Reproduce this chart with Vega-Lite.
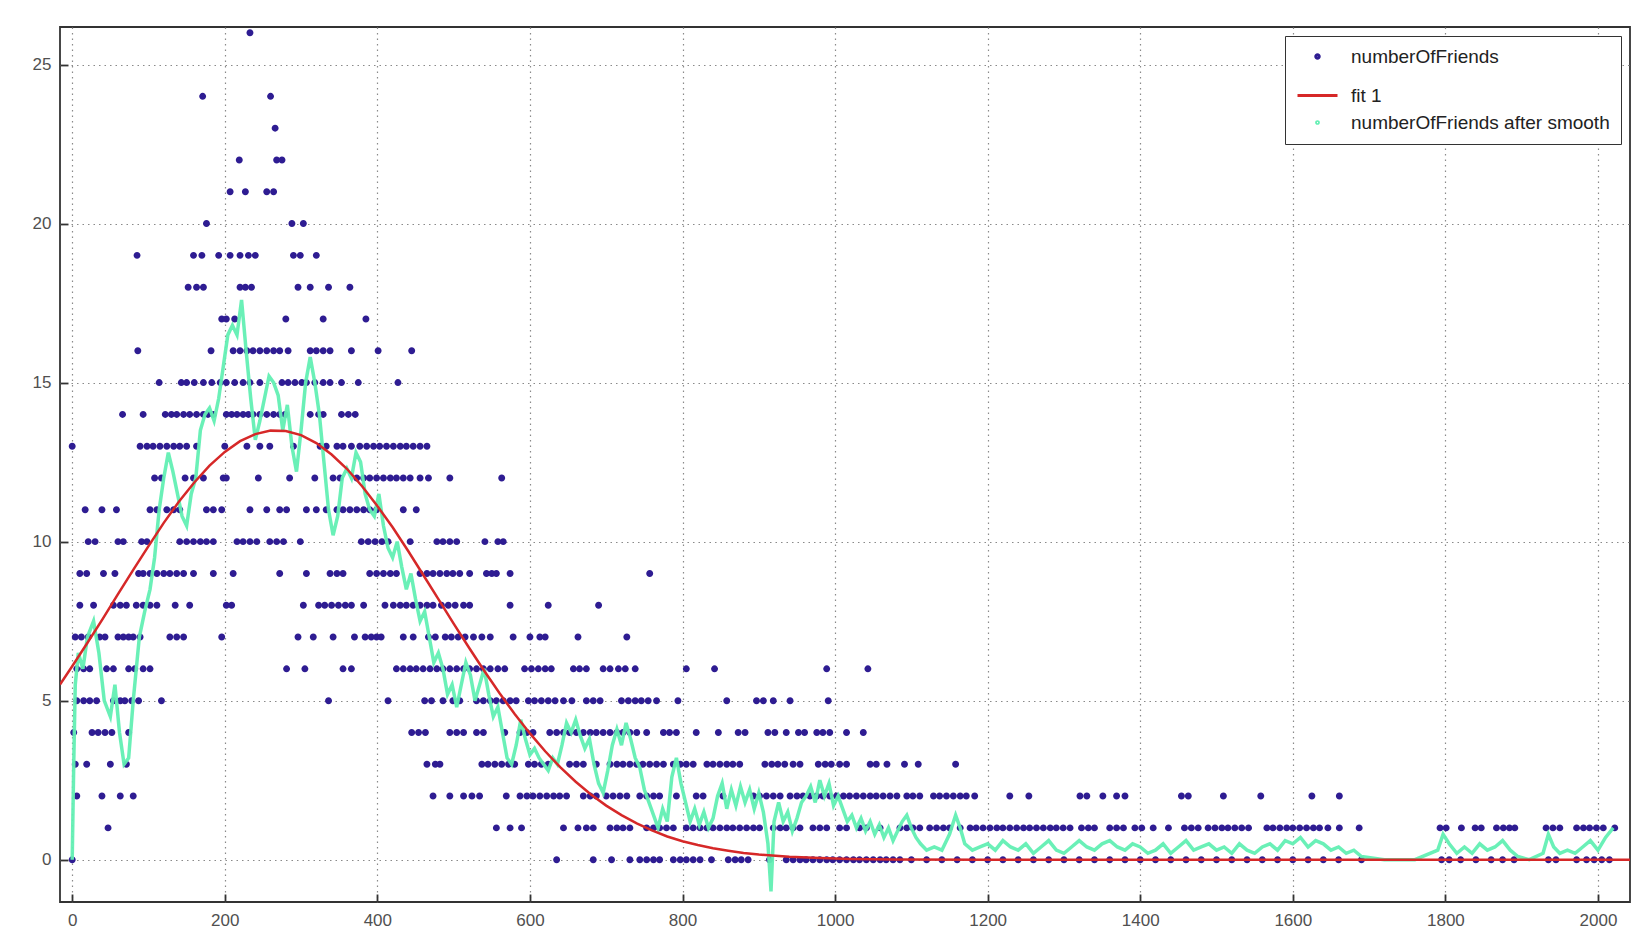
{
 "$schema": "https://vega.github.io/schema/vega-lite/v6.json",
 "width": 1570,
 "height": 875,
 "autosize": {"type": "none"},
 "padding": {"left": 60, "top": 27, "right": 10, "bottom": 47},
 "background": "white",
 "config": {
  "font": "Liberation Sans",
  "view": {"stroke": "#333333", "strokeWidth": 1.8},
  "axis": {"title": null, "grid": true, "gridColor": "#8a8a8a", "gridDash": [1.5, 4], "gridWidth": 1.2, "domain": false, "ticks": true, "tickSize": -8, "tickColor": "#333333", "tickWidth": 1.8, "labelFontSize": 17, "labelColor": "#505050", "labelFont": "Liberation Sans"},
  "axisX": {"labelPadding": 18, "format": "d"},
  "axisY": {"labelPadding": 17},
  "legend": {"orient": "top-right", "offset": 9, "title": null, "strokeColor": "#333333", "fillColor": "white", "padding": 11, "labelFontSize": 19, "labelColor": "#222222", "labelFont": "Liberation Sans", "rowPadding": 7, "labelOffset": 12, "labelLimit": 400, "symbolStrokeWidth": 3}
 },
 "datasets": {
  "friends": [
   {"x":233,"y":26},
   {"x":171,"y":24},{"x":260,"y":24},
   {"x":266,"y":23},
   {"x":219,"y":22},{"x":268,"y":22},{"x":275,"y":22},
   {"x":207,"y":21},{"x":227,"y":21},{"x":255,"y":21},{"x":264,"y":21},
   {"x":176,"y":20},{"x":288,"y":20},{"x":303,"y":20},
   {"x":85,"y":19},{"x":159,"y":19},{"x":170,"y":19},{"x":192,"y":19},{"x":207,"y":19},{"x":220,"y":19},{"x":231,"y":19},{"x":240,"y":19},{"x":290,"y":19},{"x":299,"y":19},{"x":320,"y":19},
   {"x":152,"y":18},{"x":163,"y":18},{"x":172,"y":18},{"x":220,"y":18},{"x":227,"y":18},{"x":235,"y":18},{"x":296,"y":18},{"x":312,"y":18},{"x":336,"y":18},{"x":364,"y":18},
   {"x":196,"y":17},{"x":202,"y":17},{"x":213,"y":17},{"x":280,"y":17},{"x":329,"y":17},{"x":385,"y":17},
   {"x":86,"y":16},{"x":182,"y":16},{"x":211,"y":16},{"x":220,"y":16},{"x":229,"y":16},{"x":237,"y":16},{"x":246,"y":16},{"x":255,"y":16},{"x":264,"y":16},{"x":272,"y":16},{"x":283,"y":16},{"x":312,"y":16},{"x":320,"y":16},{"x":329,"y":16},{"x":338,"y":16},{"x":366,"y":16},{"x":401,"y":16},{"x":445,"y":16},
   {"x":114,"y":15},{"x":143,"y":15},{"x":150,"y":15},{"x":160,"y":15},{"x":172,"y":15},{"x":183,"y":15},{"x":194,"y":15},{"x":202,"y":15},{"x":213,"y":15},{"x":224,"y":15},{"x":233,"y":15},{"x":246,"y":15},{"x":275,"y":15},{"x":283,"y":15},{"x":292,"y":15},{"x":301,"y":15},{"x":307,"y":15},{"x":318,"y":15},{"x":329,"y":15},{"x":338,"y":15},{"x":353,"y":15},{"x":375,"y":15},{"x":427,"y":15},
   {"x":66,"y":14},{"x":93,"y":14},{"x":122,"y":14},{"x":130,"y":14},{"x":137,"y":14},{"x":146,"y":14},{"x":154,"y":14},{"x":163,"y":14},{"x":172,"y":14},{"x":178,"y":14},{"x":185,"y":14},{"x":202,"y":14},{"x":209,"y":14},{"x":216,"y":14},{"x":224,"y":14},{"x":231,"y":14},{"x":237,"y":14},{"x":246,"y":14},{"x":255,"y":14},{"x":264,"y":14},{"x":272,"y":14},{"x":279,"y":14},{"x":312,"y":14},{"x":323,"y":14},{"x":329,"y":14},{"x":353,"y":14},{"x":362,"y":14},{"x":371,"y":14},
   {"x":0,"y":13},{"x":89,"y":13},{"x":98,"y":13},{"x":106,"y":13},{"x":115,"y":13},{"x":124,"y":13},{"x":133,"y":13},{"x":141,"y":13},{"x":150,"y":13},{"x":163,"y":13},{"x":200,"y":13},{"x":229,"y":13},{"x":246,"y":13},{"x":259,"y":13},{"x":290,"y":13},{"x":325,"y":13},{"x":333,"y":13},{"x":347,"y":13},{"x":355,"y":13},{"x":366,"y":13},{"x":377,"y":13},{"x":386,"y":13},{"x":395,"y":13},{"x":403,"y":13},{"x":412,"y":13},{"x":421,"y":13},{"x":430,"y":13},{"x":438,"y":13},{"x":447,"y":13},{"x":456,"y":13},{"x":465,"y":13},
   {"x":108,"y":12},{"x":117,"y":12},{"x":148,"y":12},{"x":159,"y":12},{"x":172,"y":12},{"x":198,"y":12},{"x":202,"y":12},{"x":244,"y":12},{"x":285,"y":12},{"x":318,"y":12},{"x":342,"y":12},{"x":351,"y":12},{"x":373,"y":12},{"x":382,"y":12},{"x":390,"y":12},{"x":399,"y":12},{"x":408,"y":12},{"x":417,"y":12},{"x":425,"y":12},{"x":434,"y":12},{"x":443,"y":12},{"x":456,"y":12},{"x":467,"y":12},{"x":495,"y":12},{"x":563,"y":12},
   {"x":17,"y":11},{"x":39,"y":11},{"x":58,"y":11},{"x":102,"y":11},{"x":111,"y":11},{"x":124,"y":11},{"x":133,"y":11},{"x":141,"y":11},{"x":176,"y":11},{"x":185,"y":11},{"x":196,"y":11},{"x":233,"y":11},{"x":255,"y":11},{"x":272,"y":11},{"x":281,"y":11},{"x":307,"y":11},{"x":320,"y":11},{"x":333,"y":11},{"x":347,"y":11},{"x":355,"y":11},{"x":364,"y":11},{"x":373,"y":11},{"x":382,"y":11},{"x":390,"y":11},{"x":399,"y":11},{"x":434,"y":11},{"x":451,"y":11},
   {"x":21,"y":10},{"x":30,"y":10},{"x":60,"y":10},{"x":67,"y":10},{"x":91,"y":10},{"x":98,"y":10},{"x":141,"y":10},{"x":150,"y":10},{"x":159,"y":10},{"x":168,"y":10},{"x":176,"y":10},{"x":185,"y":10},{"x":216,"y":10},{"x":224,"y":10},{"x":233,"y":10},{"x":242,"y":10},{"x":259,"y":10},{"x":268,"y":10},{"x":277,"y":10},{"x":299,"y":10},{"x":379,"y":10},{"x":388,"y":10},{"x":397,"y":10},{"x":406,"y":10},{"x":414,"y":10},{"x":443,"y":10},{"x":478,"y":10},{"x":486,"y":10},{"x":495,"y":10},{"x":504,"y":10},{"x":541,"y":10},{"x":558,"y":10},{"x":565,"y":10},
   {"x":10,"y":9},{"x":19,"y":9},{"x":41,"y":9},{"x":56,"y":9},{"x":87,"y":9},{"x":93,"y":9},{"x":102,"y":9},{"x":111,"y":9},{"x":120,"y":9},{"x":128,"y":9},{"x":137,"y":9},{"x":146,"y":9},{"x":159,"y":9},{"x":185,"y":9},{"x":211,"y":9},{"x":272,"y":9},{"x":307,"y":9},{"x":338,"y":9},{"x":347,"y":9},{"x":355,"y":9},{"x":390,"y":9},{"x":399,"y":9},{"x":408,"y":9},{"x":417,"y":9},{"x":425,"y":9},{"x":456,"y":9},{"x":465,"y":9},{"x":473,"y":9},{"x":482,"y":9},{"x":491,"y":9},{"x":499,"y":9},{"x":508,"y":9},{"x":521,"y":9},{"x":543,"y":9},{"x":550,"y":9},{"x":556,"y":9},{"x":574,"y":9},{"x":757,"y":9},
   {"x":10,"y":8},{"x":28,"y":8},{"x":54,"y":8},{"x":63,"y":8},{"x":71,"y":8},{"x":84,"y":8},{"x":93,"y":8},{"x":102,"y":8},{"x":111,"y":8},{"x":135,"y":8},{"x":154,"y":8},{"x":202,"y":8},{"x":209,"y":8},{"x":303,"y":8},{"x":323,"y":8},{"x":331,"y":8},{"x":340,"y":8},{"x":349,"y":8},{"x":358,"y":8},{"x":366,"y":8},{"x":382,"y":8},{"x":410,"y":8},{"x":421,"y":8},{"x":430,"y":8},{"x":438,"y":8},{"x":447,"y":8},{"x":456,"y":8},{"x":465,"y":8},{"x":473,"y":8},{"x":484,"y":8},{"x":493,"y":8},{"x":502,"y":8},{"x":513,"y":8},{"x":521,"y":8},{"x":574,"y":8},{"x":624,"y":8},{"x":690,"y":8},
   {"x":4,"y":7},{"x":12,"y":7},{"x":21,"y":7},{"x":36,"y":7},{"x":43,"y":7},{"x":60,"y":7},{"x":67,"y":7},{"x":74,"y":7},{"x":80,"y":7},{"x":89,"y":7},{"x":128,"y":7},{"x":137,"y":7},{"x":146,"y":7},{"x":196,"y":7},{"x":296,"y":7},{"x":316,"y":7},{"x":342,"y":7},{"x":370,"y":7},{"x":384,"y":7},{"x":392,"y":7},{"x":399,"y":7},{"x":405,"y":7},{"x":434,"y":7},{"x":447,"y":7},{"x":467,"y":7},{"x":476,"y":7},{"x":489,"y":7},{"x":497,"y":7},{"x":506,"y":7},{"x":515,"y":7},{"x":526,"y":7},{"x":537,"y":7},{"x":548,"y":7},{"x":578,"y":7},{"x":600,"y":7},{"x":613,"y":7},{"x":620,"y":7},{"x":663,"y":7},{"x":727,"y":7},
   {"x":6,"y":6},{"x":15,"y":6},{"x":23,"y":6},{"x":45,"y":6},{"x":54,"y":6},{"x":74,"y":6},{"x":82,"y":6},{"x":93,"y":6},{"x":102,"y":6},{"x":281,"y":6},{"x":305,"y":6},{"x":355,"y":6},{"x":366,"y":6},{"x":425,"y":6},{"x":434,"y":6},{"x":443,"y":6},{"x":451,"y":6},{"x":460,"y":6},{"x":469,"y":6},{"x":478,"y":6},{"x":486,"y":6},{"x":495,"y":6},{"x":504,"y":6},{"x":513,"y":6},{"x":521,"y":6},{"x":530,"y":6},{"x":539,"y":6},{"x":548,"y":6},{"x":558,"y":6},{"x":567,"y":6},{"x":593,"y":6},{"x":602,"y":6},{"x":611,"y":6},{"x":620,"y":6},{"x":628,"y":6},{"x":657,"y":6},{"x":665,"y":6},{"x":674,"y":6},{"x":696,"y":6},{"x":705,"y":6},{"x":716,"y":6},{"x":725,"y":6},{"x":738,"y":6},{"x":805,"y":6},{"x":842,"y":6},{"x":989,"y":6},{"x":1043,"y":6},
   {"x":6,"y":5},{"x":15,"y":5},{"x":23,"y":5},{"x":32,"y":5},{"x":54,"y":5},{"x":63,"y":5},{"x":69,"y":5},{"x":78,"y":5},{"x":87,"y":5},{"x":117,"y":5},{"x":336,"y":5},{"x":414,"y":5},{"x":462,"y":5},{"x":471,"y":5},{"x":486,"y":5},{"x":499,"y":5},{"x":508,"y":5},{"x":530,"y":5},{"x":539,"y":5},{"x":548,"y":5},{"x":556,"y":5},{"x":565,"y":5},{"x":574,"y":5},{"x":582,"y":5},{"x":598,"y":5},{"x":606,"y":5},{"x":615,"y":5},{"x":624,"y":5},{"x":633,"y":5},{"x":644,"y":5},{"x":655,"y":5},{"x":674,"y":5},{"x":683,"y":5},{"x":692,"y":5},{"x":720,"y":5},{"x":729,"y":5},{"x":738,"y":5},{"x":746,"y":5},{"x":755,"y":5},{"x":766,"y":5},{"x":794,"y":5},{"x":858,"y":5},{"x":897,"y":5},{"x":906,"y":5},{"x":919,"y":5},{"x":941,"y":5},{"x":991,"y":5},
   {"x":2,"y":4},{"x":26,"y":4},{"x":34,"y":4},{"x":43,"y":4},{"x":52,"y":4},{"x":74,"y":4},{"x":445,"y":4},{"x":454,"y":4},{"x":463,"y":4},{"x":495,"y":4},{"x":504,"y":4},{"x":513,"y":4},{"x":530,"y":4},{"x":539,"y":4},{"x":567,"y":4},{"x":587,"y":4},{"x":596,"y":4},{"x":604,"y":4},{"x":626,"y":4},{"x":635,"y":4},{"x":644,"y":4},{"x":652,"y":4},{"x":661,"y":4},{"x":670,"y":4},{"x":679,"y":4},{"x":687,"y":4},{"x":696,"y":4},{"x":705,"y":4},{"x":714,"y":4},{"x":722,"y":4},{"x":731,"y":4},{"x":740,"y":4},{"x":753,"y":4},{"x":775,"y":4},{"x":783,"y":4},{"x":792,"y":4},{"x":818,"y":4},{"x":847,"y":4},{"x":873,"y":4},{"x":882,"y":4},{"x":912,"y":4},{"x":921,"y":4},{"x":936,"y":4},{"x":952,"y":4},{"x":960,"y":4},{"x":976,"y":4},{"x":984,"y":4},{"x":993,"y":4},{"x":1015,"y":4},{"x":1037,"y":4},
   {"x":4,"y":3},{"x":19,"y":3},{"x":50,"y":3},{"x":71,"y":3},{"x":465,"y":3},{"x":476,"y":3},{"x":482,"y":3},{"x":537,"y":3},{"x":545,"y":3},{"x":554,"y":3},{"x":563,"y":3},{"x":572,"y":3},{"x":580,"y":3},{"x":598,"y":3},{"x":606,"y":3},{"x":615,"y":3},{"x":624,"y":3},{"x":652,"y":3},{"x":661,"y":3},{"x":670,"y":3},{"x":687,"y":3},{"x":705,"y":3},{"x":714,"y":3},{"x":722,"y":3},{"x":731,"y":3},{"x":740,"y":3},{"x":748,"y":3},{"x":757,"y":3},{"x":766,"y":3},{"x":775,"y":3},{"x":788,"y":3},{"x":797,"y":3},{"x":805,"y":3},{"x":814,"y":3},{"x":832,"y":3},{"x":840,"y":3},{"x":849,"y":3},{"x":858,"y":3},{"x":866,"y":3},{"x":875,"y":3},{"x":908,"y":3},{"x":917,"y":3},{"x":925,"y":3},{"x":934,"y":3},{"x":945,"y":3},{"x":954,"y":3},{"x":978,"y":3},{"x":987,"y":3},{"x":995,"y":3},{"x":1006,"y":3},{"x":1015,"y":3},{"x":1046,"y":3},{"x":1054,"y":3},{"x":1068,"y":3},{"x":1091,"y":3},{"x":1109,"y":3},{"x":1158,"y":3},
   {"x":6,"y":2},{"x":39,"y":2},{"x":63,"y":2},{"x":80,"y":2},{"x":473,"y":2},{"x":495,"y":2},{"x":513,"y":2},{"x":524,"y":2},{"x":534,"y":2},{"x":569,"y":2},{"x":587,"y":2},{"x":596,"y":2},{"x":604,"y":2},{"x":613,"y":2},{"x":622,"y":2},{"x":631,"y":2},{"x":639,"y":2},{"x":648,"y":2},{"x":670,"y":2},{"x":679,"y":2},{"x":687,"y":2},{"x":700,"y":2},{"x":709,"y":2},{"x":718,"y":2},{"x":727,"y":2},{"x":744,"y":2},{"x":753,"y":2},{"x":762,"y":2},{"x":770,"y":2},{"x":792,"y":2},{"x":818,"y":2},{"x":827,"y":2},{"x":853,"y":2},{"x":893,"y":2},{"x":901,"y":2},{"x":910,"y":2},{"x":919,"y":2},{"x":928,"y":2},{"x":941,"y":2},{"x":950,"y":2},{"x":958,"y":2},{"x":967,"y":2},{"x":976,"y":2},{"x":984,"y":2},{"x":993,"y":2},{"x":1002,"y":2},{"x":1011,"y":2},{"x":1019,"y":2},{"x":1028,"y":2},{"x":1037,"y":2},{"x":1046,"y":2},{"x":1054,"y":2},{"x":1063,"y":2},{"x":1072,"y":2},{"x":1081,"y":2},{"x":1094,"y":2},{"x":1102,"y":2},{"x":1111,"y":2},{"x":1129,"y":2},{"x":1137,"y":2},{"x":1146,"y":2},{"x":1155,"y":2},{"x":1164,"y":2},{"x":1172,"y":2},{"x":1183,"y":2},{"x":1229,"y":2},{"x":1254,"y":2},{"x":1321,"y":2},{"x":1330,"y":2},{"x":1351,"y":2},{"x":1369,"y":2},{"x":1380,"y":2},{"x":1454,"y":2},{"x":1463,"y":2},{"x":1509,"y":2},{"x":1558,"y":2},{"x":1625,"y":2},{"x":1661,"y":2},
   {"x":47,"y":1},{"x":556,"y":1},{"x":574,"y":1},{"x":589,"y":1},{"x":644,"y":1},{"x":663,"y":1},{"x":674,"y":1},{"x":683,"y":1},{"x":705,"y":1},{"x":714,"y":1},{"x":722,"y":1},{"x":731,"y":1},{"x":753,"y":1},{"x":762,"y":1},{"x":770,"y":1},{"x":779,"y":1},{"x":788,"y":1},{"x":805,"y":1},{"x":814,"y":1},{"x":823,"y":1},{"x":832,"y":1},{"x":840,"y":1},{"x":849,"y":1},{"x":858,"y":1},{"x":866,"y":1},{"x":875,"y":1},{"x":884,"y":1},{"x":893,"y":1},{"x":901,"y":1},{"x":919,"y":1},{"x":928,"y":1},{"x":936,"y":1},{"x":945,"y":1},{"x":954,"y":1},{"x":971,"y":1},{"x":980,"y":1},{"x":989,"y":1},{"x":1006,"y":1},{"x":1015,"y":1},{"x":1032,"y":1},{"x":1041,"y":1},{"x":1059,"y":1},{"x":1085,"y":1},{"x":1094,"y":1},{"x":1102,"y":1},{"x":1111,"y":1},{"x":1124,"y":1},{"x":1133,"y":1},{"x":1142,"y":1},{"x":1150,"y":1},{"x":1164,"y":1},{"x":1177,"y":1},{"x":1185,"y":1},{"x":1194,"y":1},{"x":1203,"y":1},{"x":1212,"y":1},{"x":1220,"y":1},{"x":1229,"y":1},{"x":1238,"y":1},{"x":1247,"y":1},{"x":1255,"y":1},{"x":1264,"y":1},{"x":1273,"y":1},{"x":1282,"y":1},{"x":1290,"y":1},{"x":1299,"y":1},{"x":1308,"y":1},{"x":1323,"y":1},{"x":1332,"y":1},{"x":1340,"y":1},{"x":1360,"y":1},{"x":1369,"y":1},{"x":1378,"y":1},{"x":1393,"y":1},{"x":1402,"y":1},{"x":1417,"y":1},{"x":1437,"y":1},{"x":1458,"y":1},{"x":1467,"y":1},{"x":1476,"y":1},{"x":1489,"y":1},{"x":1498,"y":1},{"x":1507,"y":1},{"x":1515,"y":1},{"x":1524,"y":1},{"x":1533,"y":1},{"x":1542,"y":1},{"x":1566,"y":1},{"x":1574,"y":1},{"x":1583,"y":1},{"x":1592,"y":1},{"x":1600,"y":1},{"x":1609,"y":1},{"x":1618,"y":1},{"x":1627,"y":1},{"x":1635,"y":1},{"x":1646,"y":1},{"x":1661,"y":1},{"x":1687,"y":1},{"x":1793,"y":1},{"x":1801,"y":1},{"x":1821,"y":1},{"x":1839,"y":1},{"x":1847,"y":1},{"x":1867,"y":1},{"x":1876,"y":1},{"x":1884,"y":1},{"x":1891,"y":1},{"x":1932,"y":1},{"x":1941,"y":1},{"x":1950,"y":1},{"x":1972,"y":1},{"x":1981,"y":1},{"x":1989,"y":1},{"x":1998,"y":1},{"x":2007,"y":1},{"x":2022,"y":1},
   {"x":0,"y":0},{"x":635,"y":0},{"x":683,"y":0},{"x":707,"y":0},{"x":731,"y":0},{"x":744,"y":0},{"x":753,"y":0},{"x":762,"y":0},{"x":770,"y":0},{"x":788,"y":0},{"x":797,"y":0},{"x":805,"y":0},{"x":814,"y":0},{"x":823,"y":0},{"x":838,"y":0},{"x":860,"y":0},{"x":869,"y":0},{"x":877,"y":0},{"x":886,"y":0},{"x":914,"y":0},{"x":936,"y":0},{"x":945,"y":0},{"x":954,"y":0},{"x":962,"y":0},{"x":971,"y":0},{"x":980,"y":0},{"x":989,"y":0},{"x":997,"y":0},{"x":1006,"y":0},{"x":1015,"y":0},{"x":1024,"y":0},{"x":1032,"y":0},{"x":1041,"y":0},{"x":1050,"y":0},{"x":1059,"y":0},{"x":1067,"y":0},{"x":1076,"y":0},{"x":1085,"y":0},{"x":1100,"y":0},{"x":1120,"y":0},{"x":1140,"y":0},{"x":1160,"y":0},{"x":1180,"y":0},{"x":1200,"y":0},{"x":1220,"y":0},{"x":1240,"y":0},{"x":1260,"y":0},{"x":1280,"y":0},{"x":1300,"y":0},{"x":1320,"y":0},{"x":1340,"y":0},{"x":1360,"y":0},{"x":1380,"y":0},{"x":1400,"y":0},{"x":1420,"y":0},{"x":1440,"y":0},{"x":1460,"y":0},{"x":1480,"y":0},{"x":1500,"y":0},{"x":1520,"y":0},{"x":1540,"y":0},{"x":1560,"y":0},{"x":1580,"y":0},{"x":1600,"y":0},{"x":1620,"y":0},{"x":1640,"y":0},{"x":1660,"y":0},{"x":1690,"y":0},{"x":1795,"y":0},{"x":1805,"y":0},{"x":1820,"y":0},{"x":1840,"y":0},{"x":1860,"y":0},{"x":1875,"y":0},{"x":1890,"y":0},{"x":1935,"y":0},{"x":1945,"y":0},{"x":1972,"y":0},{"x":1985,"y":0},{"x":1995,"y":0},{"x":2005,"y":0},{"x":2015,"y":0}
  ],
  "smooth": [
   {"x":0,"y":0},{"x":2,"y":3},{"x":4,"y":5.5},{"x":8,"y":6.5},{"x":14,"y":6},{"x":20,"y":7},{"x":28,"y":7.5},{"x":35,"y":6.5},{"x":42,"y":5},{"x":50,"y":4.5},{"x":56,"y":5.5},{"x":62,"y":4},{"x":68,"y":3},{"x":74,"y":3.2},{"x":80,"y":5},{"x":88,"y":7},{"x":95,"y":7.8},{"x":102,"y":8.5},{"x":108,"y":9.5},{"x":114,"y":11},{"x":120,"y":12},{"x":126,"y":12.8},{"x":132,"y":12.2},{"x":138,"y":11.5},{"x":144,"y":10.8},{"x":150,"y":10.5},{"x":156,"y":11.5},{"x":162,"y":12},{"x":168,"y":13.5},{"x":174,"y":14},{"x":180,"y":14.2},{"x":186,"y":13.8},{"x":192,"y":14.5},{"x":198,"y":15.5},{"x":204,"y":16.5},{"x":210,"y":16.8},{"x":216,"y":16.5},{"x":222,"y":17.6},{"x":228,"y":16},{"x":234,"y":14.5},{"x":240,"y":13.2},{"x":246,"y":13.8},{"x":252,"y":14.5},{"x":258,"y":15.2},{"x":264,"y":15},{"x":270,"y":14.6},{"x":276,"y":13.5},{"x":282,"y":14.3},{"x":288,"y":13},{"x":294,"y":12.2},{"x":300,"y":13.5},{"x":306,"y":15},{"x":312,"y":15.8},{"x":318,"y":15},{"x":324,"y":14},{"x":330,"y":12.5},{"x":336,"y":11},{"x":342,"y":10.2},{"x":348,"y":10.8},{"x":354,"y":12},{"x":360,"y":12.3},{"x":366,"y":12},{"x":372,"y":12.8},{"x":378,"y":12.5},{"x":384,"y":11.5},{"x":390,"y":11},{"x":396,"y":10.8},{"x":402,"y":11.5},{"x":408,"y":10.5},{"x":414,"y":9.8},{"x":420,"y":9.5},{"x":426,"y":10},{"x":432,"y":9.2},{"x":438,"y":8.5},{"x":444,"y":9},{"x":450,"y":8.2},{"x":456,"y":7.5},{"x":462,"y":7.8},{"x":468,"y":7},{"x":474,"y":6.2},{"x":480,"y":6.5},{"x":486,"y":6},{"x":492,"y":5.2},{"x":498,"y":5.5},{"x":504,"y":4.8},{"x":510,"y":5.5},{"x":516,"y":6.2},{"x":522,"y":5.8},{"x":528,"y":5},{"x":534,"y":5.5},{"x":540,"y":6},{"x":546,"y":5.2},{"x":552,"y":4.5},{"x":558,"y":4.8},{"x":564,"y":4},{"x":570,"y":3.2},{"x":576,"y":3},{"x":582,"y":3.6},{"x":588,"y":4.4},{"x":594,"y":3.8},{"x":600,"y":3.3},{"x":606,"y":3.5},{"x":612,"y":3.2},{"x":618,"y":3},{"x":624,"y":2.8},{"x":630,"y":3.2},{"x":636,"y":3},{"x":642,"y":3.6},{"x":648,"y":4.3},{"x":654,"y":4},{"x":660,"y":4.4},{"x":666,"y":3.9},{"x":672,"y":3.5},{"x":678,"y":3.8},{"x":684,"y":3},{"x":690,"y":2.4},{"x":696,"y":2.1},{"x":702,"y":2.8},{"x":708,"y":3.6},{"x":714,"y":4.1},{"x":720,"y":3.6},{"x":726,"y":4.3},{"x":732,"y":3.8},{"x":738,"y":3.2},{"x":744,"y":2.9},{"x":750,"y":2.2},{"x":756,"y":1.8},{"x":762,"y":1.4},{"x":768,"y":1},{"x":774,"y":1.6},{"x":780,"y":1.2},{"x":786,"y":2.6},{"x":792,"y":3.2},{"x":798,"y":2.4},{"x":804,"y":1.8},{"x":810,"y":1.2},{"x":816,"y":1.6},{"x":822,"y":1.1},{"x":828,"y":1.5},{"x":834,"y":1},{"x":840,"y":1.3},{"x":846,"y":2},{"x":852,"y":2.4},{"x":858,"y":1.6},{"x":864,"y":2.2},{"x":870,"y":1.7},{"x":876,"y":2.3},{"x":882,"y":1.8},{"x":888,"y":2.2},{"x":894,"y":1.6},{"x":900,"y":2.1},{"x":906,"y":1.5},{"x":912,"y":0.5},{"x":916,"y":-1},{"x":920,"y":1.2},{"x":926,"y":1.8},{"x":932,"y":1.2},{"x":938,"y":1.5},{"x":944,"y":0.9},{"x":950,"y":1.3},{"x":956,"y":1.8},{"x":962,"y":2},{"x":968,"y":2.3},{"x":974,"y":1.8},{"x":980,"y":2.5},{"x":986,"y":2},{"x":992,"y":2.4},{"x":998,"y":1.7},{"x":1004,"y":2},{"x":1010,"y":1.6},{"x":1016,"y":1.2},{"x":1022,"y":1.4},{"x":1028,"y":1},{"x":1034,"y":1.3},{"x":1040,"y":0.9},{"x":1046,"y":1.2},{"x":1052,"y":0.8},{"x":1058,"y":1.1},{"x":1064,"y":0.7},{"x":1070,"y":1},{"x":1076,"y":0.6},{"x":1082,"y":0.9},{"x":1088,"y":1.2},{"x":1094,"y":1.4},{"x":1100,"y":1},{"x":1106,"y":0.7},{"x":1112,"y":0.5},{"x":1120,"y":0.3},{"x":1130,"y":0.4},{"x":1140,"y":0.3},{"x":1150,"y":0.8},{"x":1158,"y":1.4},{"x":1164,"y":1},{"x":1170,"y":0.5},{"x":1180,"y":0.3},{"x":1190,"y":0.4},{"x":1200,"y":0.5},{"x":1210,"y":0.3},{"x":1220,"y":0.6},{"x":1230,"y":0.4},{"x":1240,"y":0.3},{"x":1250,"y":0.5},{"x":1260,"y":0.2},{"x":1270,"y":0.4},{"x":1280,"y":0.6},{"x":1290,"y":0.3},{"x":1300,"y":0.2},{"x":1310,"y":0.4},{"x":1320,"y":0.6},{"x":1330,"y":0.4},{"x":1340,"y":0.3},{"x":1350,"y":0.5},{"x":1360,"y":0.6},{"x":1370,"y":0.4},{"x":1380,"y":0.3},{"x":1390,"y":0.5},{"x":1400,"y":0.4},{"x":1410,"y":0.2},{"x":1420,"y":0.3},{"x":1430,"y":0.5},{"x":1440,"y":0.2},{"x":1450,"y":0.4},{"x":1460,"y":0.6},{"x":1470,"y":0.3},{"x":1480,"y":0.4},{"x":1490,"y":0.5},{"x":1500,"y":0.3},{"x":1510,"y":0.4},{"x":1520,"y":0.2},{"x":1530,"y":0.5},{"x":1540,"y":0.3},{"x":1550,"y":0.2},{"x":1560,"y":0.4},{"x":1570,"y":0.5},{"x":1580,"y":0.3},{"x":1590,"y":0.6},{"x":1600,"y":0.5},{"x":1610,"y":0.7},{"x":1620,"y":0.4},{"x":1630,"y":0.6},{"x":1640,"y":0.5},{"x":1650,"y":0.3},{"x":1660,"y":0.4},{"x":1670,"y":0.2},{"x":1680,"y":0.3},{"x":1690,"y":0.1},{"x":1720,"y":0},{"x":1760,"y":0},{"x":1790,"y":0.3},{"x":1797,"y":0.8},{"x":1805,"y":0.5},{"x":1815,"y":0.2},{"x":1825,"y":0.4},{"x":1835,"y":0.2},{"x":1845,"y":0.5},{"x":1855,"y":0.3},{"x":1865,"y":0.4},{"x":1875,"y":0.6},{"x":1885,"y":0.3},{"x":1895,"y":0.1},{"x":1910,"y":0},{"x":1928,"y":0.2},{"x":1935,"y":0.8},{"x":1942,"y":0.4},{"x":1950,"y":0.2},{"x":1960,"y":0.3},{"x":1970,"y":0.2},{"x":1980,"y":0.4},{"x":1990,"y":0.6},{"x":2000,"y":0.3},{"x":2010,"y":0.7},{"x":2020,"y":1}
  ],
  "fit": [
   {"x":-16,"y":5.51},{"x":0,"y":6.08},{"x":20,"y":6.82},{"x":40,"y":7.57},{"x":60,"y":8.35},{"x":80,"y":9.11},{"x":100,"y":9.86},{"x":120,"y":10.59},{"x":140,"y":11.26},{"x":160,"y":11.86},{"x":180,"y":12.39},{"x":200,"y":12.82},{"x":220,"y":13.16},{"x":240,"y":13.38},{"x":260,"y":13.49},{"x":280,"y":13.48},{"x":300,"y":13.35},{"x":320,"y":13.1},{"x":340,"y":12.74},{"x":360,"y":12.29},{"x":380,"y":11.74},{"x":400,"y":11.12},{"x":420,"y":10.45},{"x":440,"y":9.72},{"x":460,"y":8.96},{"x":480,"y":8.19},{"x":500,"y":7.42},{"x":520,"y":6.67},{"x":540,"y":5.94},{"x":560,"y":5.24},{"x":580,"y":4.58},{"x":600,"y":3.97},{"x":620,"y":3.41},{"x":640,"y":2.9},{"x":660,"y":2.45},{"x":680,"y":2.05},{"x":700,"y":1.7},{"x":720,"y":1.4},{"x":740,"y":1.14},{"x":760,"y":0.92},{"x":780,"y":0.73},{"x":800,"y":0.58},{"x":820,"y":0.46},{"x":840,"y":0.36},{"x":860,"y":0.28},{"x":880,"y":0.21},{"x":900,"y":0.16},{"x":940,"y":0.09},{"x":980,"y":0.05},{"x":1020,"y":0.025},{"x":1080,"y":0.007},{"x":1200,"y":0},{"x":2045,"y":0}
  ]
 },
 "layer": [
  {
   "data": {"name": "friends"},
   "mark": {"type": "point", "filled": false, "strokeWidth": 3.5, "opacity": 1, "clip": true},
   "encoding": {
    "x": {"field": "x", "type": "quantitative", "scale": {"domain": [-16, 2042], "nice": false, "zero": false}, "axis": {"values": [0, 200, 400, 600, 800, 1000, 1200, 1400, 1600, 1800, 2000]}},
    "y": {"field": "y", "type": "quantitative", "scale": {"domain": [-1.33, 26.18], "nice": false, "zero": false}, "axis": {"values": [0, 5, 10, 15, 20, 25]}},
    "color": {"datum": "numberOfFriends", "type": "nominal", "scale": {"domain": ["numberOfFriends", "fit 1", "numberOfFriends after smooth"], "range": ["#2e1c92", "#d62828", "#62efb3"]}},
    "shape": {"datum": "numberOfFriends", "type": "nominal", "scale": {"domain": ["numberOfFriends", "fit 1", "numberOfFriends after smooth"], "range": ["circle", "stroke", "circle"]}},
    "size": {"datum": "numberOfFriends", "type": "nominal", "scale": {"type": "ordinal", "domain": ["numberOfFriends", "fit 1", "numberOfFriends after smooth"], "range": [12, 1600, 3]}}
   }
  },
  {
   "data": {"name": "smooth"},
   "mark": {"type": "line", "strokeWidth": 3.5, "clip": true, "opacity": 0.95},
   "encoding": {
    "x": {"field": "x", "type": "quantitative"},
    "y": {"field": "y", "type": "quantitative"},
    "color": {"datum": "numberOfFriends after smooth", "type": "nominal"}
   }
  },
  {
   "data": {"name": "fit"},
   "mark": {"type": "line", "strokeWidth": 2.5, "clip": true},
   "encoding": {
    "x": {"field": "x", "type": "quantitative"},
    "y": {"field": "y", "type": "quantitative"},
    "color": {"datum": "fit 1", "type": "nominal"}
   }
  }
 ]
}
